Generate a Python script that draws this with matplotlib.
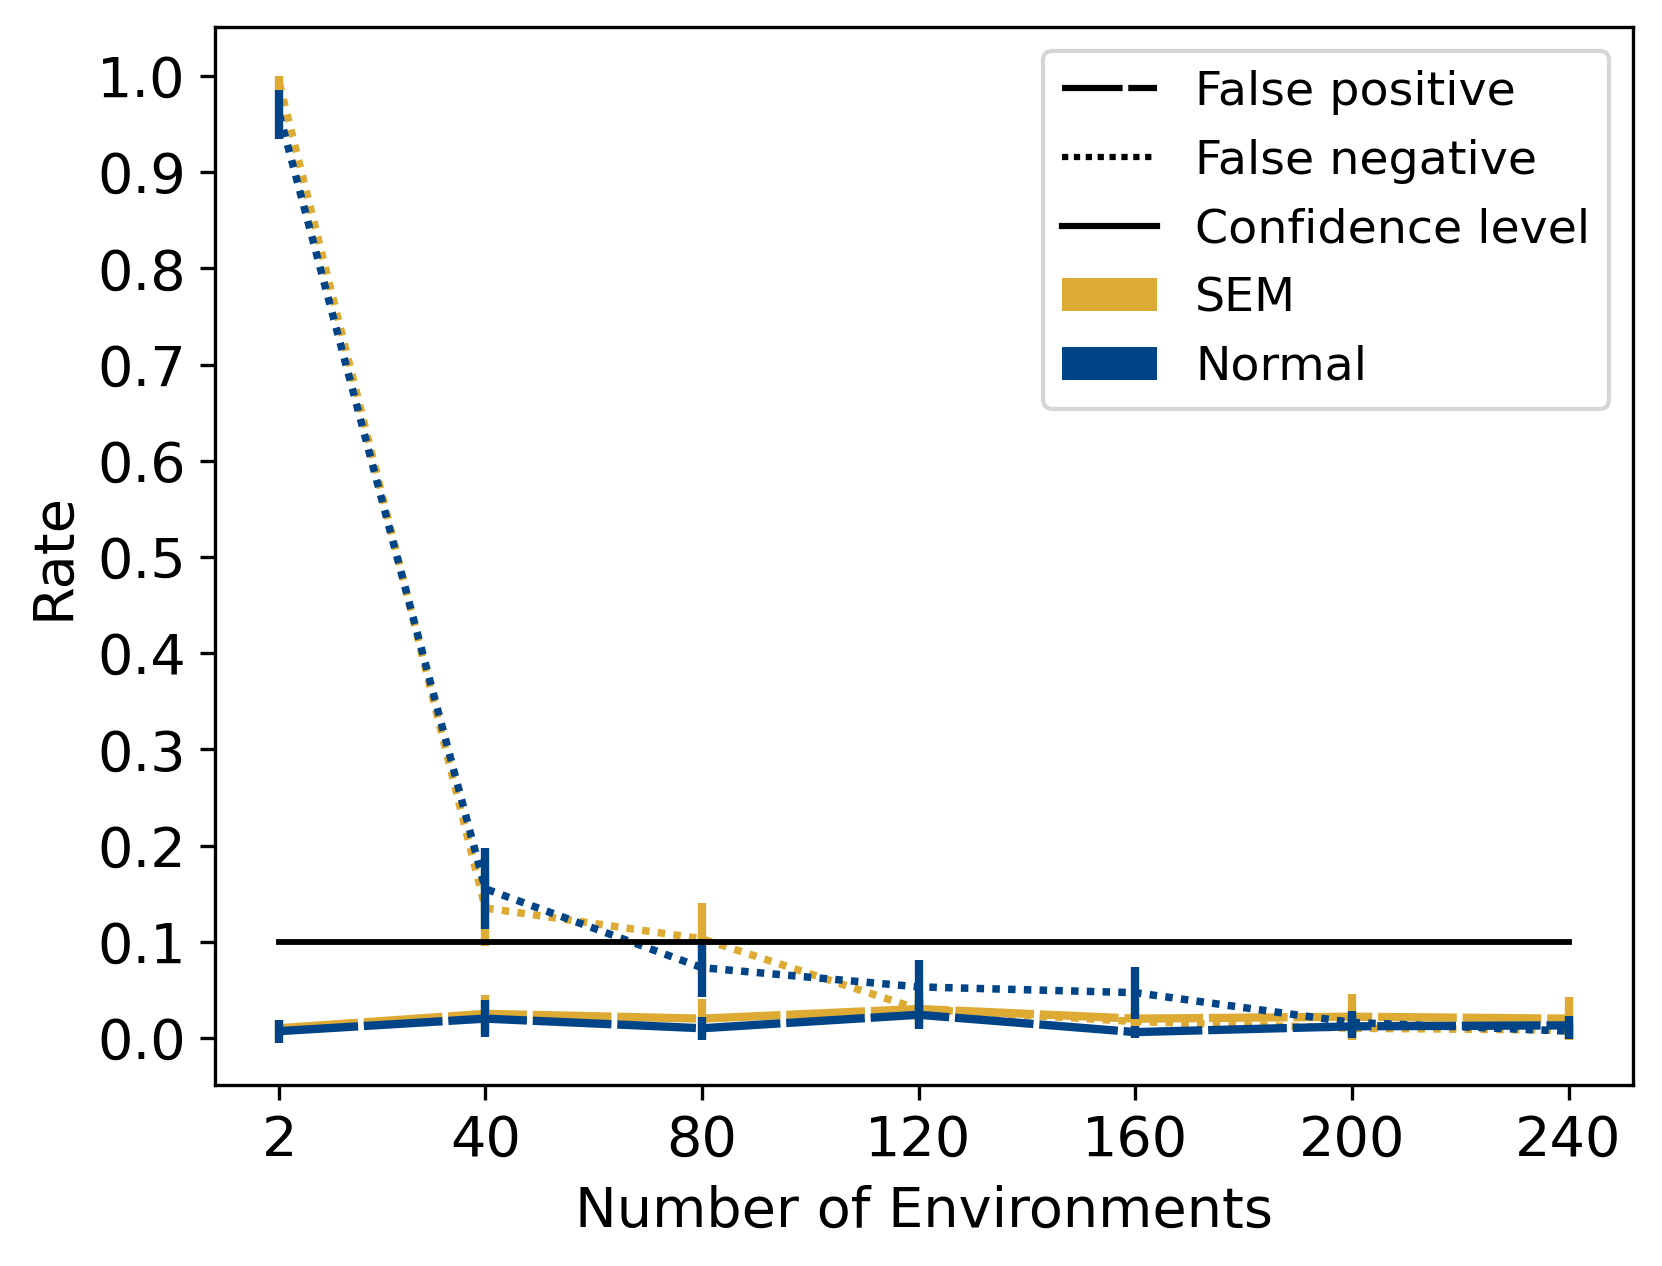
import matplotlib
matplotlib.use("Agg")
import matplotlib.pyplot as plt
from matplotlib.lines import Line2D
from matplotlib.patches import Patch

# ---- data ----
n_envs = [2, 40, 80, 120, 160, 200, 240]
xtick_labels = ["2", "40", "80", "120", "160", "200", "240"]

sem_fp = [0.010, 0.025, 0.020, 0.030, 0.020, 0.022, 0.020]
sem_fp_err = [0.008, 0.020, 0.020, 0.015, 0.012, 0.024, 0.022]
sem_fn = [0.992, 0.135, 0.103, 0.030, 0.017, 0.010, 0.008]
sem_fn_err = [0.008, 0.040, 0.037, 0.020, 0.010, 0.012, 0.010]

normal_fp = [0.007, 0.020, 0.010, 0.024, 0.006, 0.012, 0.013]
normal_fp_err = [0.012, 0.019, 0.012, 0.015, 0.006, 0.012, 0.010]
normal_fn = [0.960, 0.155, 0.073, 0.053, 0.047, 0.016, 0.007]
normal_fn_err = [0.025, 0.042, 0.030, 0.028, 0.027, 0.012, 0.008]

confidence = 0.1

SEM_C = "#DDAA33"
NORM_C = "#004488"

plt.rcParams["font.family"] = ["DejaVu Sans"]
plt.rcParams["font.size"] = 13.4

fig = plt.figure(figsize=(1662 / 300, 1266 / 300), dpi=300)
ax = fig.add_axes([215 / 1662, 181 / 1266, (1633 - 215) / 1662, (1239 - 181) / 1266])

LW_DASH = 2.0
LW_DOT = 1.8
LW_ERR = 2.0
DASH = (9.45, 0.7)
DOT = (1.0, 1.1)

for fp, fpe, fn, fne, c in [
    (sem_fp, sem_fp_err, sem_fn, sem_fn_err, SEM_C),
    (normal_fp, normal_fp_err, normal_fn, normal_fn_err, NORM_C),
]:
    ax.plot(n_envs, fp, color=c, lw=LW_DASH, dashes=DASH, dash_capstyle="butt")
    ax.errorbar(n_envs, fp, yerr=fpe, fmt="none", ecolor=c, elinewidth=LW_ERR, capsize=0)
    ax.plot(n_envs, fn, color=c, lw=LW_DOT, dashes=DOT, dash_capstyle="butt")
    ax.errorbar(n_envs, fn, yerr=fne, fmt="none", ecolor=c, elinewidth=LW_ERR, capsize=0)

ax.plot([n_envs[0], n_envs[-1]], [confidence, confidence], color="black", lw=1.4)

ax.set_xlim(2 - 0.05 * 238, 240 + 0.05 * 238)
ax.set_ylim(-0.049, 1.051)
ax.set_xticks(n_envs)
ax.set_xticklabels(xtick_labels)
ax.set_yticks([i / 10 for i in range(11)])
ax.set_yticklabels([f"{i / 10:.1f}" for i in range(11)])
ax.set_xlabel("Number of Environments")
ax.set_ylabel("Rate")

handles = [
    Line2D([], [], color="black", lw=1.5, dashes=(9.7, 0.9)),
    Line2D([], [], color="black", lw=1.5, dashes=(1.0, 0.9)),
    Line2D([], [], color="black", lw=1.5),
    Patch(facecolor=SEM_C),
    Patch(facecolor=NORM_C),
]
labels = ["False positive", "False negative", "Confidence level", "SEM", "Normal"]
ax.legend(handles, labels, loc="upper right", fontsize=11.4)

fig.savefig("out.png", dpi=300)
